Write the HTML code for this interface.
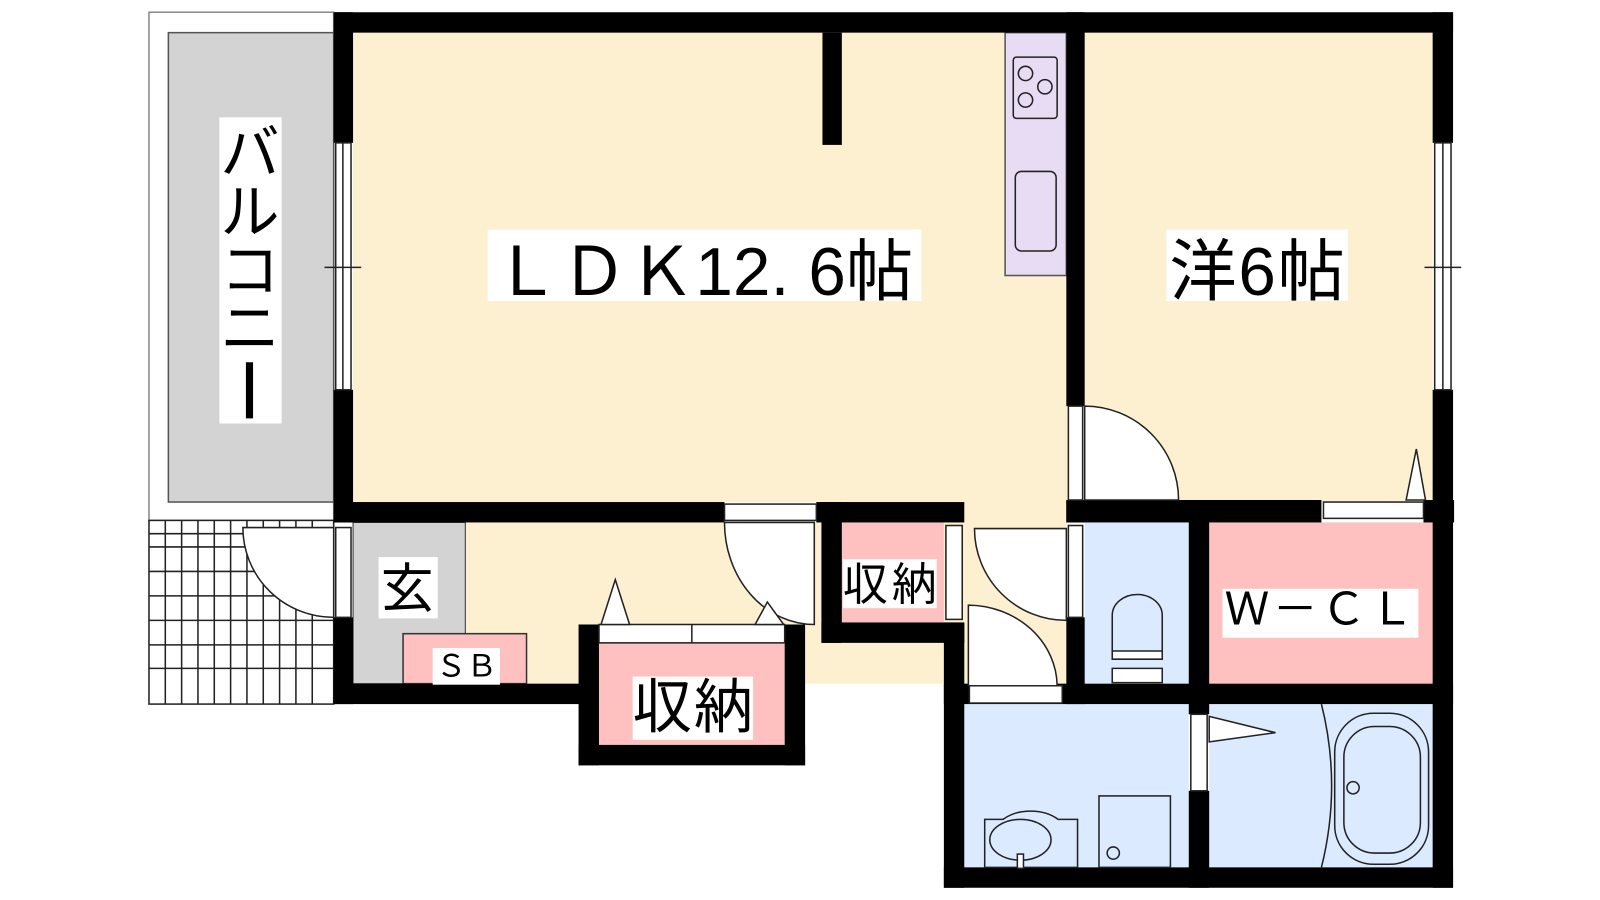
<!DOCTYPE html>
<html><head><meta charset="utf-8"><style>
html,body{margin:0;padding:0;background:#fff;}
svg{display:block}
text{font-family:"Liberation Sans","Noto Sans CJK JP",sans-serif;fill:#000}
</style></head><body>
<svg width="1600" height="900" viewBox="0 0 1568 882" xmlns="http://www.w3.org/2000/svg">
<rect width="1568" height="882" fill="#fff"/>
<rect x="146" y="12" width="181" height="498" fill="#fff" stroke="#888" stroke-width="1.5"/>
<rect x="165" y="32" width="162" height="460" fill="#d3d3d3" stroke="#555" stroke-width="1.5"/>
<g stroke="#222" stroke-width="1.5">
<rect x="146" y="510" width="181" height="180" fill="#fff"/>
<path d="M162 510V690M178 510V690M194 510V690M210 510V690M226 510V690M242 510V690M258 510V690M274 510V690M290 510V690M306 510V690M146 523H327M146 536H327M146 560H327M146 584H327M146 608H327M146 632H327M146 655H327"/>
</g>
<rect x="346" y="32" width="700" height="460" fill="#fdf0d0"/>
<rect x="1063" y="32" width="341" height="460" fill="#fdf0d0"/>
<rect x="346" y="512" width="600" height="158" fill="#fdf0d0"/>
<rect x="945" y="492" width="100" height="198" fill="#fdf0d0"/>
<rect x="346" y="512" width="110" height="158" fill="#d3d3d3" stroke="#333" stroke-width="1"/>
<rect x="395" y="621" width="121" height="49" fill="#ffc0c0" stroke="#333" stroke-width="1.5"/>
<rect x="1063" y="512" width="102" height="158" fill="#dbeafe"/>
<rect x="1185" y="512" width="219" height="158" fill="#ffc0c0"/>
<rect x="945" y="690" width="220" height="160" fill="#dbeafe"/>
<rect x="1185" y="690" width="219" height="160" fill="#dbeafe"/>
<rect x="587" y="630" width="182" height="100" fill="#ffc0c0"/>
<rect x="825" y="512" width="100" height="98" fill="#ffc0c0"/>
<rect x="985" y="32" width="60" height="238" fill="#e8dcf4" stroke="#555" stroke-width="1.5"/>
<rect x="993" y="56" width="43" height="60" fill="none" stroke="#222" stroke-width="1.5" rx="3"/>
<circle cx="1005" cy="72" r="7" fill="none" stroke="#222" stroke-width="1.5"/>
<circle cx="1024" cy="85" r="7" fill="none" stroke="#222" stroke-width="1.5"/>
<circle cx="1005" cy="98" r="7" fill="none" stroke="#222" stroke-width="1.5"/>
<rect x="995" y="168" width="40" height="78" rx="6" fill="none" stroke="#222" stroke-width="1.5"/>
<g fill="#000">
<rect x="327" y="12" width="1097" height="20"/>
<rect x="327" y="12" width="19" height="128"/>
<rect x="327" y="382" width="19" height="130"/>
<rect x="327" y="605" width="19" height="85"/>
<rect x="1404" y="12" width="20" height="128"/>
<rect x="1404" y="382" width="20" height="488"/>
<rect x="806" y="32" width="19" height="110"/>
<rect x="1045" y="12" width="18" height="386"/>
<rect x="1045" y="490" width="18" height="22"/>
<rect x="1045" y="605" width="18" height="85"/>
<rect x="327" y="492" width="383" height="20"/>
<rect x="800" y="492" width="145" height="20"/>
<rect x="805" y="492" width="20" height="138"/>
<rect x="805" y="610" width="140" height="20"/>
<rect x="925" y="610" width="20" height="260"/>
<rect x="1045" y="490" width="250" height="22"/>
<rect x="1395" y="490" width="30" height="22"/>
<rect x="327" y="670" width="260" height="20"/>
<rect x="567" y="612" width="20" height="138"/>
<rect x="769" y="612" width="20" height="138"/>
<rect x="567" y="730" width="222" height="20"/>
<rect x="925" y="670" width="499" height="20"/>
<rect x="1165" y="490" width="20" height="210"/>
<rect x="1165" y="775" width="20" height="95"/>
<rect x="925" y="850" width="499" height="20"/>
</g>
<g fill="#fff" stroke="#222" stroke-width="1.5">
<rect x="329" y="140" width="15" height="242"/>
<line x1="336" y1="140" x2="336" y2="382"/>
<line x1="318" y1="262" x2="354" y2="262"/>
<rect x="1406" y="140" width="16" height="242"/>
<line x1="1414" y1="140" x2="1414" y2="382"/>
<line x1="1396" y1="262" x2="1432" y2="262"/>
<rect x="710" y="494" width="90" height="16"/>
<rect x="329" y="517" width="15" height="88"/>
<rect x="1047" y="398" width="14" height="92"/>
<rect x="1297" y="492" width="98" height="16"/>
<rect x="927" y="515" width="16" height="92"/>
<rect x="1047" y="515" width="14" height="90"/>
<rect x="950" y="672" width="91" height="17"/>
<rect x="1167" y="700" width="16" height="75"/>
<rect x="587" y="612" width="182" height="18"/>
<line x1="678" y1="612" x2="678" y2="630"/>
<path d="M238 517H327V605A89 88 0 0 1 238 517Z"/>
<path d="M710 512H798V612A88 100 0 0 1 710 512Z"/>
<path d="M1063 398A92 92 0 0 1 1155 490H1063Z"/>
<path d="M955 518H1045V608A90 90 0 0 1 955 518Z"/>
<path d="M949 593A88 80 0 0 1 1036 672H949Z"/>
<path d="M589 612L603 568L617 612Z"/>
<path d="M740 612L752 590L768 612Z"/>
<path d="M1378 490L1388 440L1397 490Z"/>
<path d="M1185 702L1250 718L1185 727Z"/>
<path d="M1090 655H1139V669H1090Z"/>
<path d="M1090 638H1139V646H1090Z"/>
<path d="M1090 638V603A24 20 0 0 1 1139 603V638" fill="none"/>
<path d="M965 850V803H983A36 24 0 0 1 1037 803H1056V850Z" fill="none"/>
<ellipse cx="1000" cy="823" rx="30" ry="20" fill="none"/>
<rect x="997" y="837" width="6" height="14"/>
<rect x="1077" y="780" width="70" height="70" fill="none"/>
<circle cx="1091" cy="836" r="6" fill="none"/>
<path d="M1295 690Q1315 770 1295 850" fill="none"/>
<rect x="1308" y="699" width="92" height="148" rx="38" fill="none"/>
<rect x="1317" y="712" width="75" height="124" rx="30" fill="none"/>
<circle cx="1326" cy="772" r="6" fill="none"/>
</g>
<rect x="478" y="225" width="425" height="70" fill="#fff"/>
<text x="483" y="289" font-size="66" textLength="412">ＬＤＫ12. 6帖</text>
<rect x="1143" y="225" width="178" height="70" fill="#fff"/>
<text x="1146" y="289" font-size="66" textLength="172">洋6帖</text>
<rect x="215" y="115" width="61" height="300" fill="#fff"/>
<text x="245" y="170" font-size="58" text-anchor="middle">バ</text>
<text x="245" y="228" font-size="58" text-anchor="middle">ル</text>
<text x="245" y="285" font-size="58" text-anchor="middle">コ</text>
<text x="245" y="342" font-size="58" text-anchor="middle">ニ</text>
<rect x="241" y="355" width="7" height="55" fill="#000"/>
<rect x="371" y="546" width="58" height="60" fill="#fff"/>
<text x="373" y="595" font-size="52">玄</text>
<rect x="424" y="635" width="66" height="36" fill="#fff"/>
<text x="427" y="663" font-size="30">ＳＢ</text>
<rect x="826" y="548" width="92" height="48" fill="#fff"/>
<text x="826" y="588" font-size="44" textLength="92">収納</text>
<rect x="620" y="663" width="118" height="62" fill="#fff"/>
<text x="620" y="713" font-size="58" textLength="118">収納</text>
<rect x="1198" y="577" width="192" height="48" fill="#fff"/>
<text x="1200" y="612" font-size="44" textLength="186">Ｗ－ＣＬ</text>
</svg>
</body></html>
